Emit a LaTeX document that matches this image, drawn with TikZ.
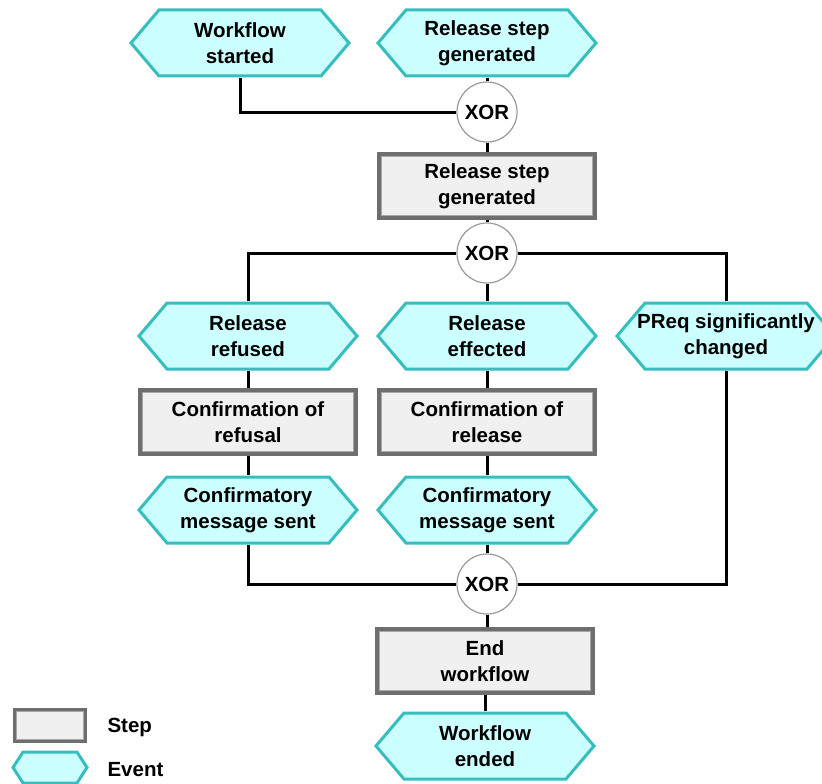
\documentclass[tikz,border=0pt]{standalone}
\usepackage{fontspec}
\setmainfont{Liberation Sans}
\usetikzlibrary{backgrounds}
\definecolor{evfill}{HTML}{CCFFFF}
\definecolor{evline}{HTML}{36BDBD}
\definecolor{stfill}{HTML}{F0F0F0}
\definecolor{stline}{HTML}{6E6E6E}
\definecolor{stinner}{HTML}{A8A8A8}
\definecolor{xorline}{HTML}{9A9A9A}
\begin{document}
\begin{tikzpicture}[x=1pt,y=-1pt,
  every node/.style={font=\fontsize{20.5}{25.5}\selectfont\bfseries, align=center},
  hexpic/.style={path picture={
      \draw[evline, line width=3pt, fill=evfill, line join=miter]
        ([xshift=2pt]path picture bounding box.west)
        -- ([xshift=#1+2pt, yshift=-2pt]path picture bounding box.north west)
        -- ([xshift=-#1-2pt, yshift=-2pt]path picture bounding box.north east)
        -- ([xshift=-2pt]path picture bounding box.east)
        -- ([xshift=-#1-2pt, yshift=2pt]path picture bounding box.south east)
        -- ([xshift=#1+2pt, yshift=2pt]path picture bounding box.south west)
        -- cycle;}},
  boxpic/.style={path picture={
      \draw[stinner, line width=1.2pt]
        ([xshift=2.3pt, yshift=-2.3pt]path picture bounding box.north west)
        rectangle ([xshift=-2.3pt, yshift=2.3pt]path picture bounding box.south east);}},
  eventnode/.style={rectangle, inner sep=0pt, minimum width=222pt, minimum height=70pt, hexpic=28pt},
  legevent/.style={rectangle, inner sep=0pt, minimum width=78pt, minimum height=35pt, hexpic=10pt},
  stepnode/.style={rectangle, fill=stfill, draw=stline, line width=3.5pt, minimum width=216pt, minimum height=64pt, inner sep=0pt, boxpic},
  legstep/.style={rectangle, fill=stfill, draw=stline, line width=3.5pt, minimum width=71pt, minimum height=32pt, inner sep=0pt, boxpic},
  xornode/.style={circle, fill=white, draw=xorline, line width=1.2pt, minimum size=60pt, inner sep=0pt},
  conn/.style={line width=3pt, black},
  legtext/.style={anchor=west}]
\useasboundingbox (0,0) rectangle (822,784);

\node[eventnode] (ws) at (240,43) {Workflow\\started};
\node[eventnode] (rse) at (487,43) {Release step\\generated};
\node[xornode] (x1) at (487,112) {XOR};
\node[stepnode] (rsg) at (487,186) {Release step\\generated};
\node[xornode] (x2) at (487,253) {XOR};
\node[eventnode] (rr) at (248,336) {Release\\refused};
\node[eventnode] (re) at (487,336) {Release\\effected};
\node[eventnode] (pr) at (726,336) {PReq significantly\\changed};
\node[stepnode] (cr) at (248,422) {Confirmation of\\refusal};
\node[stepnode] (cre) at (487,422) {Confirmation of\\release};
\node[eventnode] (cm1) at (248,510) {Confirmatory\\message sent};
\node[eventnode] (cm2) at (487,510) {Confirmatory\\message sent};
\node[xornode] (x3) at (487,584) {XOR};
\node[stepnode] (ew) at (485,661) {End\\workflow};
\node[eventnode] (wfe) at (485,746) {Workflow\\ended};

\node[legstep] (ls) at (50,725.5) {};
\node[legtext] (lst) at (104,727) {Step};
\node[legevent] (le) at (50,767.5) {};
\node[legtext] (let) at (104,770) {Event};

\begin{scope}[on background layer]
\draw[conn] (ws.south) |- (x1.west);
\draw[conn] (rse) -- (x1);
\draw[conn] (x1) -- (rsg);
\draw[conn] (rsg) -- (x2);
\draw[conn] (x2.west) -| (rr.north);
\draw[conn] (x2) -- (re);
\draw[conn] (x2.east) -| (pr.north);
\draw[conn] (rr) -- (cr);
\draw[conn] (cr) -- (cm1);
\draw[conn] (re) -- (cre);
\draw[conn] (cre) -- (cm2);
\draw[conn] (cm1.south) |- (x3.west);
\draw[conn] (cm2) -- (x3);
\draw[conn] (pr.south) |- (x3.east);
\draw[conn] (x3.south) -- (x3.south |- ew.north);
\draw[conn] (ew.south) -- (ew.south |- wfe.north);
\end{scope}
\end{tikzpicture}
\end{document}
